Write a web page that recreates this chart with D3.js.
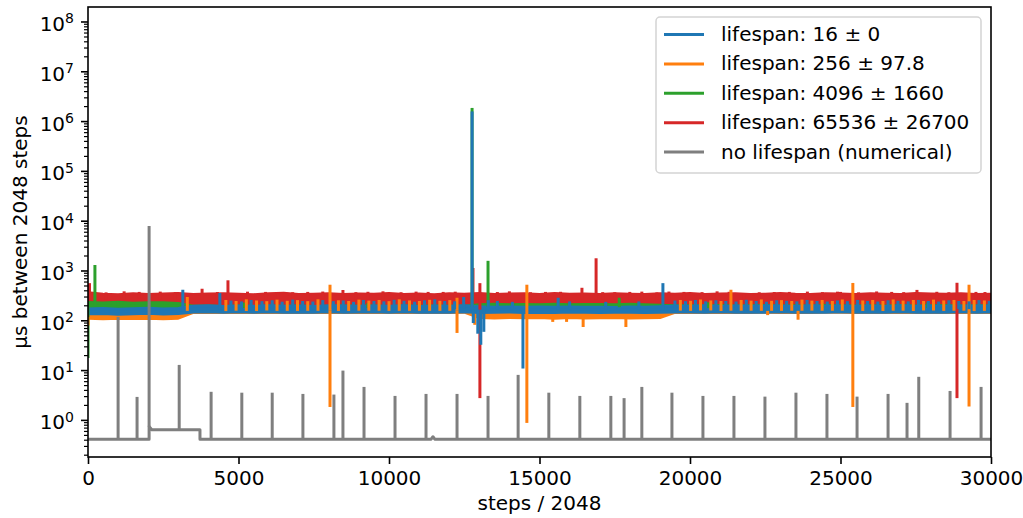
<!DOCTYPE html>
<html>
<head>
<meta charset="utf-8">
<script src="https://cdn.jsdelivr.net/npm/d3@7"></script>
<style>
  body { margin: 0; background: #fff; }
  svg { display: block; }
  text { font-family: "DejaVu Sans", sans-serif; }
</style>
</head>
<body>
<svg id="chart" width="1023" height="518"></svg>
<script>
// ---- data -------------------------------------------------------------
const xDomain = [0, 30000];
const yDomain = [0.184, 1.9995e8];
const xTicks = [0, 5000, 10000, 15000, 20000, 25000, 30000];
const yMajorExponents = [0, 1, 2, 3, 4, 5, 6, 7, 8];

const legendLabels = [
  "lifespan: 16 \u00b1 0",
  "lifespan: 256 \u00b1 97.8",
  "lifespan: 4096 \u00b1 1660",
  "lifespan: 65536 \u00b1 26700",
  "no lifespan (numerical)"
];

// sample positions (steps / 2048) of the band envelopes
const xGrid = [
  0, 500, 1000, 1500, 2000, 2500, 3000, 3500, 4000, 4500,
  5000, 5500, 6000, 6500, 7000, 7500, 8000, 8500, 9000, 9500,
  10000, 10500, 11000, 11500, 12000, 12500, 13000, 13500, 14000, 14500,
  15000, 15500, 16000, 16500, 17000, 17500, 18000, 18500, 19000, 19500,
  20000, 20500, 21000, 21500, 22000, 22500, 23000, 23500, 24000, 24500,
  25000, 25500, 26000, 26500, 27000, 27500, 28000, 28500, 29000, 29500,
  30000
];

// lifespan 65536 (red)
const redHi = [
  365, 340, 335, 350, 338, 345, 352, 336, 344, 350,
  340, 334, 348, 356, 338, 342, 350, 336, 345, 340,
  352, 338, 346, 334, 350, 342, 355, 338, 344, 348,
  336, 352, 340, 345, 338, 350, 342, 336, 348, 340,
  354, 338, 345, 350, 336, 342, 352, 340, 338, 348,
  344, 336, 350, 342, 338, 352, 345, 340, 348, 336,
  342
];
const redLo = [
  205, 212, 208, 215, 210, 214, 209, 216, 211, 213,
  210, 215, 209, 214, 212, 208, 216, 211, 213, 210,
  214, 209, 215, 211, 213, 216, 210, 212, 214, 209,
  215, 211, 213, 210, 216, 212, 209, 214, 211, 213,
  210, 215, 212, 209, 214, 211, 216, 210, 213, 212,
  209, 214, 211, 216, 210, 213, 212, 215, 209, 214,
  211
];
const redSpikes = [
  [50, 570], [600, 372], [1200, 390], [1700, 380], [2400, 385], [2900, 376],
  [3790, 440], [4300, 378], [4650, 650], [5300, 384], [5900, 380], [6300, 372],
  [6800, 375], [7300, 380], [7800, 386], [8470, 415], [8900, 376], [9300, 382],
  [9800, 390], [10400, 374], [10900, 385], [11300, 380], [11800, 380], [12200, 384],
  [12790, 1150], [13020, 570], [13020, 2.8], [13600, 378], [14000, 390], [14700, 374],
  [15200, 380], [15700, 382], [16410, 460], [16880, 1800], [17100, 376], [17500, 375],
  [18000, 380], [18400, 385], [18900, 372], [19300, 386], [19800, 380], [20400, 376],
  [20900, 390], [21300, 382], [21800, 360], [22300, 374], [22800, 378], [23300, 380],
  [23900, 385], [24400, 376], [24900, 384], [25000, 380], [25600, 372], [26200, 388],
  [26700, 380], [27100, 376], [27540, 417], [28200, 382], [28600, 374], [28870, 580],
  [28870, 2.8], [29500, 380], [29800, 378]
];

// lifespan 4096 (green)
const greenHi = [
  232, 228, 235, 226, 230, 229, 222, 196, 198, 194,
  197, 193, 198, 195, 197, 194, 196, 198, 195, 197,
  194, 198, 196, 197, 195, 197, 210, 214, 209, 213,
  211, 215, 210, 213, 212, 209, 214, 211, 206, 200,
  201, 198, 202, 199, 200, 203, 198, 201, 199, 202,
  200, 198, 201, 199, 202, 198, 200, 203, 199, 201,
  200
];
const greenLo = [
  168, 165, 170, 166, 168, 165, 167, 163, 165, 164,
  166, 163, 165, 164, 166, 163, 165, 166, 164, 165,
  163, 166, 164, 165, 163, 166, 170, 172, 168, 171,
  170, 173, 169, 171, 172, 168, 170, 169, 165, 163,
  165, 163, 166, 164, 165, 163, 166, 164, 165, 163,
  166, 164, 165, 163, 166, 164, 165, 163, 166, 164,
  165
];
const greenSpikes = [
  [0, 18], [230, 1320], [1000, 250], [5200, 232], [9300, 228],
  [12760, 1.88e6], [13290, 1600], [17650, 290], [20600, 235],
  [24400, 230], [27900, 235]
];

// lifespan 256 (orange)
const orangeHi = [
  128, 126, 129, 127, 130, 126, 128, 170, 172, 168,
  171, 169, 173, 170, 168, 172, 170, 169, 171, 173,
  170, 168, 172, 169, 171, 170, 140, 136, 139, 137,
  138, 135, 139, 136, 137, 140, 136, 138, 137, 172,
  170, 173, 169, 171, 172, 168, 171, 170, 173, 169,
  171, 170, 172, 168, 171, 169, 173, 170, 171, 168,
  170
];
const orangeLo = [
  112, 110, 113, 111, 112, 110, 113, 147, 149, 146,
  148, 146, 149, 147, 148, 146, 149, 147, 148, 146,
  147, 149, 146, 148, 147, 149, 116, 114, 117, 115,
  116, 113, 117, 114, 115, 116, 114, 115, 116, 148,
  147, 149, 146, 148, 147, 149, 146, 148, 147, 149,
  148, 146, 149, 147, 148, 146, 149, 147, 148, 146,
  147
];
const orangeSpikes = [
  [0, 80], [3300, 300],
  [4580, 262], [4920, 250], [5260, 270], [5600, 256], [5940, 248], [6280, 266],
  [6620, 252], [6960, 260], [7300, 248], [7640, 270],
  [8040, 530], [8040, 1.86],
  [8320, 258], [8660, 250], [9000, 266], [9330, 254], [9670, 262], [10000, 248],
  [10340, 270], [10680, 256], [11010, 250], [11350, 264], [11690, 252], [12020, 260],
  [12260, 57], [12260, 290], [12850, 83],
  [14580, 530], [14580, 0.89], [15440, 95], [15900, 95], [16450, 75], [17870, 75],
  [19680, 262], [20020, 252], [20350, 268], [20690, 256], [21030, 250], [21360, 420],
  [21700, 262], [22030, 254], [22370, 268], [22580, 130], [22710, 252], [23040, 260],
  [23380, 250], [23590, 105], [23720, 266], [24050, 254], [24390, 262], [24730, 250],
  [25060, 268], [25410, 575], [25410, 1.86], [25740, 256], [26070, 262], [26410, 250],
  [26750, 268], [27080, 254], [27420, 262], [27760, 250], [28090, 266], [28430, 256],
  [28770, 262], [29100, 250], [29270, 530], [29270, 1.9], [29440, 262], [29780, 256]
];

// lifespan 16 (blue)
const blueHi = [
  172, 176, 170, 174, 178, 172, 176, 196, 200, 194,
  198, 195, 201, 196, 199, 194, 200, 197, 195, 199,
  196, 200, 194, 198, 195, 201, 192, 188, 190, 186,
  189, 186, 190, 187, 188, 185, 189, 186, 192, 198,
  196, 200, 194, 198, 195, 199, 197, 194, 200, 196,
  199, 195, 198, 194, 200, 196, 198, 195, 199, 197,
  198
];
const blueLo = [
  138, 140, 136, 139, 141, 137, 140, 150, 152, 149,
  151, 148, 152, 149, 150, 148, 151, 149, 150, 152,
  149, 151, 148, 150, 149, 151, 146, 148, 150, 147,
  149, 147, 150, 148, 147, 149, 148, 147, 149, 150,
  150, 148, 151, 149, 150, 148, 151, 149, 150, 148,
  151, 149, 150, 148, 151, 149, 150, 148, 151, 149,
  150
];
const blueSpikes = [
  [3150, 420], [4380, 360],
  [4750, 255], [5100, 245], [5420, 262], [5780, 248], [6120, 258], [6450, 242],
  [6800, 266], [7130, 250], [7470, 244], [7800, 260], [8150, 248], [8480, 256],
  [8820, 240], [9150, 262], [9500, 250], [9830, 246], [10170, 264], [10500, 252],
  [10850, 242], [11180, 258], [11520, 270], [11850, 250], [12180, 246], [12480, 300],
  [12760, 1.6e6], [12800, 90], [12950, 55], [13050, 33], [13150, 60], [13300, 260],
  [13600, 250], [14100, 240], [14450, 11], [15620, 290], [16000, 245], [17200, 240],
  [18300, 245], [19100, 570],
  [19500, 255], [19850, 248], [20180, 262], [20520, 246], [20860, 258], [21190, 250],
  [21530, 244], [21870, 264], [22200, 250], [22540, 242], [22880, 258], [23210, 252],
  [23550, 246], [23890, 262], [24220, 250], [24560, 244], [24900, 256], [25230, 248],
  [25570, 262], [25900, 250], [26240, 244], [26580, 258], [26910, 252], [27250, 246],
  [27590, 262], [27920, 250], [28260, 244], [28600, 258], [28930, 250], [29270, 246],
  [29600, 260], [29940, 252]
];

// no lifespan (gray): baseline levels and isolated spikes
const grayLevels = [
  [0, 0.42], [2030, 0.42], [2030, 0.75], [2120, 0.65], [3720, 0.65], [3720, 0.42],
  [11400, 0.42], [11460, 0.47], [11520, 0.42], [30000, 0.42]
];
const graySpikes = [
  [1000, 120], [1630, 2.96], [2030, 8000], [3030, 13], [4090, 3.75], [5110, 3.6],
  [6120, 3.6], [7140, 3.4], [8170, 3.3], [8470, 10], [9170, 4.7], [10200, 3.1],
  [11230, 3.4], [12260, 3.4], [13290, 3.1], [14290, 8.2], [15310, 3.6], [16340, 3.1],
  [17370, 3.1], [17810, 2.8], [18400, 4.7], [19400, 3.6], [20430, 3.1], [21460, 3.1],
  [22490, 3.0], [23520, 3.6], [24550, 3.4], [25550, 3.0], [26580, 3.4], [27210, 2.25],
  [27600, 7.5], [28640, 3.9], [29670, 4.7]
];

// ---- layout -------------------------------------------------------------
const plot = { left: 88, right: 991, top: 7, bottom: 457 };
const FONT = 20;

const svg = d3.select("#chart");
const x = d3.scaleLinear().domain(xDomain).range([plot.left, plot.right]);
const y = d3.scaleLog().domain(yDomain).range([plot.bottom, plot.top]);

svg.append("defs").append("clipPath").attr("id", "plot-clip")
  .append("rect")
  .attr("x", plot.left).attr("y", plot.top)
  .attr("width", plot.right - plot.left).attr("height", plot.bottom - plot.top);

const gPlot = svg.append("g").attr("clip-path", "url(#plot-clip)");

const colors = { blue: "#1f77b4", orange: "#ff7f0e", green: "#2ca02c", red: "#d62728", gray: "#7f7f7f" };
const LW = 3;

const series = [
  { color: colors.red, lo: redLo, hi: redHi, spikes: redSpikes },
  { color: colors.green, lo: greenLo, hi: greenHi, spikes: greenSpikes },
  { color: colors.orange, lo: orangeLo, hi: orangeHi, spikes: orangeSpikes },
  { color: colors.blue, lo: blueLo, hi: blueHi, spikes: blueSpikes }
];

const band = d3.area()
  .x((d, i) => x(xGrid[i]))
  .y0(d => y(d[0]))
  .y1(d => y(d[1]));

const seg = d3.line().x(d => x(d[0])).y(d => y(d[1]));

function bandCentre(s, lo, hi) {
  const i = d3.bisectCenter(xGrid, s);
  return Math.sqrt(lo[i] * hi[i]);
}

// noisy bands
series.forEach(sr => {
  gPlot.append("path")
    .attr("d", band(d3.zip(sr.lo, sr.hi)))
    .attr("fill", sr.color)
    .attr("stroke", sr.color)
    .attr("stroke-width", LW)
    .attr("stroke-linejoin", "round");
});

// excursions away from each band
series.forEach(sr => {
  gPlot.append("g").selectAll("path")
    .data(sr.spikes)
    .join("path")
    .attr("d", d => seg([[d[0], bandCentre(d[0], sr.lo, sr.hi)], [d[0], d[1]]]))
    .attr("fill", "none")
    .attr("stroke", sr.color)
    .attr("stroke-width", LW)
    .attr("stroke-linecap", "butt");
});

// gray series: baseline then spikes
gPlot.append("path")
  .attr("d", seg(grayLevels))
  .attr("fill", "none")
  .attr("stroke", colors.gray)
  .attr("stroke-width", LW)
  .attr("stroke-linejoin", "round");

function grayBaseAt(s) {
  let v = grayLevels[0][1];
  grayLevels.forEach(p => { if (p[0] <= s) v = p[1]; });
  return v;
}
gPlot.append("g").selectAll("path")
  .data(graySpikes)
  .join("path")
  .attr("d", d => seg([[d[0], grayBaseAt(d[0])], [d[0], d[1]]]))
  .attr("fill", "none")
  .attr("stroke", colors.gray)
  .attr("stroke-width", LW)
  .attr("stroke-linecap", "butt");

// ---- axes -------------------------------------------------------------
const xAxis = d3.axisBottom(x)
  .tickValues(xTicks)
  .tickFormat(d3.format("d"))
  .tickSize(7)
  .tickPadding(7)
  .tickSizeOuter(0);

const gx = svg.append("g")
  .attr("transform", `translate(0,${plot.bottom})`)
  .call(xAxis);
gx.select(".domain").remove();
gx.selectAll(".tick line").attr("stroke", "#000").attr("stroke-width", 1.6);
gx.selectAll(".tick text")
  .attr("fill", "#000")
  .style("font-size", FONT + "px")
  .style("font-family", "DejaVu Sans, sans-serif");

// y axis: log ticks with superscript labels
const gy = svg.append("g");
const [yMin, yMax] = y.domain();
const minorTicks = [];
for (let k = -1; k <= 8; k++) {
  for (let m = 2; m <= 9; m++) {
    const v = m * Math.pow(10, k);
    if (v >= yMin && v <= yMax) minorTicks.push(v);
  }
}
gy.selectAll("line.minor")
  .data(minorTicks)
  .join("line")
  .attr("class", "minor")
  .attr("x1", plot.left - 4).attr("x2", plot.left)
  .attr("y1", d => y(d)).attr("y2", d => y(d))
  .attr("stroke", "#000").attr("stroke-width", 1.2);

gy.selectAll("line.major")
  .data(yMajorExponents)
  .join("line")
  .attr("class", "major")
  .attr("x1", plot.left - 7).attr("x2", plot.left)
  .attr("y1", d => y(Math.pow(10, d))).attr("y2", d => y(Math.pow(10, d)))
  .attr("stroke", "#000").attr("stroke-width", 1.6);

yMajorExponents.forEach(k => {
  const t = gy.append("text")
    .attr("x", plot.left - 14)
    .attr("y", y(Math.pow(10, k)) + 9)
    .attr("text-anchor", "end")
    .attr("fill", "#000")
    .style("font-size", FONT + "px");
  t.append("tspan").text("10");
  t.append("tspan").attr("dy", -7.5).style("font-size", "14px").text(String(k));
});

// frame
svg.append("rect")
  .attr("x", plot.left).attr("y", plot.top)
  .attr("width", plot.right - plot.left).attr("height", plot.bottom - plot.top)
  .attr("fill", "none").attr("stroke", "#000").attr("stroke-width", 1.6);

// axis titles
svg.append("text")
  .attr("x", (plot.left + plot.right) / 2)
  .attr("y", 510)
  .attr("text-anchor", "middle")
  .attr("fill", "#000")
  .style("font-size", FONT + "px")
  .text("steps / 2048");

svg.append("text")
  .attr("transform", `translate(27,${(plot.top + plot.bottom) / 2}) rotate(-90)`)
  .attr("text-anchor", "middle")
  .attr("fill", "#000")
  .style("font-size", FONT + "px")
  .text("\u03bcs between 2048 steps");

// ---- legend -------------------------------------------------------------
const legendColors = [colors.blue, colors.orange, colors.green, colors.red, colors.gray];
const lg = svg.append("g");
lg.append("rect")
  .attr("x", 656).attr("y", 17)
  .attr("width", 325).attr("height", 156)
  .attr("rx", 4).attr("ry", 4)
  .attr("fill", "#fff").attr("fill-opacity", 0.8)
  .attr("stroke", "#d4d4d4").attr("stroke-width", 1.5);

legendLabels.forEach((label, i) => {
  const cy = 34.5 + i * 29.4;
  lg.append("line")
    .attr("x1", 664).attr("x2", 704)
    .attr("y1", cy).attr("y2", cy)
    .attr("stroke", legendColors[i]).attr("stroke-width", LW);
  lg.append("text")
    .attr("x", 721).attr("y", cy + 6.5)
    .attr("fill", "#000")
    .style("font-size", FONT + "px")
    .text(label);
});
</script>
</body>
</html>
